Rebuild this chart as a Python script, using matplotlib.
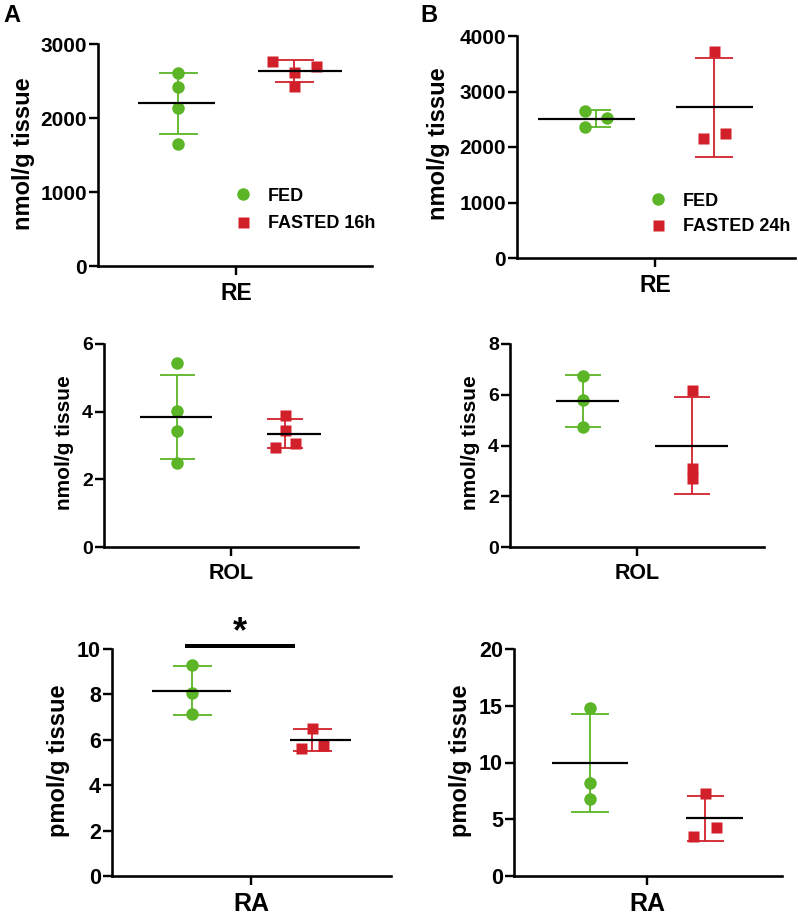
import matplotlib
matplotlib.use('Agg')
import matplotlib.pyplot as plt
import numpy as np

plt.rcParams['font.family'] = ['Liberation Sans', 'DejaVu Sans']
plt.rcParams['font.weight'] = 'bold'

W, H, DPI = 798, 915, 100

# ---------------- data ----------------
RE_A_fed = [2604, 2414, 2131, 1649]
RE_A_fasted = [2770, 2707, 2626, 2432]
RE_B_fed = [2654, 2355, 2523]
RE_B_fasted = [3735, 2156, 2246]
ROL_A_fed = [5.45, 4.03, 3.43, 2.49]
ROL_A_fasted = [3.90, 3.46, 2.96, 3.08]
ROL_B_fed = [6.74, 5.79, 4.72]
ROL_B_fasted = [6.19, 3.10, 2.71]
RA_A_fed = [9.28, 8.06, 7.13]
RA_A_fasted = [6.54, 5.66, 5.78]
RA_B_fed = [14.83, 8.22, 6.81]
RA_B_fasted = [7.34, 3.55, 4.34]

labels_A = ['FED', 'FASTED 16h']
labels_B = ['FED', 'FASTED 24h']
GREEN = '#5BB526'
RED = '#D2202A'

# ---------------- layout (pixels) ----------------
panels = [
    dict(rect=(98, 44, 372, 266), ymax=3000, step=1000, ylabel='nmol/g tissue', cat='RE',
         yl=(24, 154), fs_tick=15, fs_lab=17, fs_cat=16.5, tick_x=236,
         fed=RE_A_fed, fas=RE_A_fasted,
         fed_x=178, fed_off=[0, 0, 0, 0], fed_mean=(138, 215), fed_cap=19.5,
         fas_x=294, fas_off=[-22, 22, 0, 0], fas_mean=(258, 342), fas_cap=19.5,
         legend=(labels_A, 234, 187.6, 0.57)),
    dict(rect=(517, 36, 795, 258), ymax=4000, step=1000, ylabel='nmol/g tissue', cat='RE',
         yl=(438, 144), fs_tick=15, fs_lab=17, fs_cat=16.5, tick_x=655,
         fed=RE_B_fed, fas=RE_B_fasted,
         fed_x=596, fed_off=[-11, -11, 11], fed_mean=(538, 635), fed_cap=15,
         fas_x=714, fas_off=[0, -11, 11], fas_mean=(676, 753), fas_cap=19,
         legend=(labels_B, 649, 192.6, 0.46)),
    dict(rect=(104, 344, 358, 547), ymax=6, step=2, ylabel='nmol/g tissue', cat='ROL',
         yl=(64.5, 443), fs_tick=14, fs_lab=15, fs_cat=15.5, tick_x=231,
         fed=ROL_A_fed, fas=ROL_A_fasted,
         fed_x=177, fed_off=[0, 0, 0, 0], fed_mean=(140, 212), fed_cap=17.5,
         fas_x=285, fas_off=[0, 0, -10, 10], fas_mean=(267, 321), fas_cap=18,
         legend=None),
    dict(rect=(510, 344, 764, 547), ymax=8, step=2, ylabel='nmol/g tissue', cat='ROL',
         yl=(470.8, 443), fs_tick=14, fs_lab=15, fs_cat=15.5, tick_x=637,
         fed=ROL_B_fed, fas=ROL_B_fasted,
         fed_x=583, fed_off=[0, 0, 0], fed_mean=(556, 619), fed_cap=18,
         fas_x=691.7, fas_off=[0, 0, 0], fas_mean=(655, 728), fas_cap=18,
         legend=None),
    dict(rect=(112, 649, 391, 876), ymax=10, step=2, ylabel='pmol/g tissue', cat='RA',
         yl=(59, 761), fs_tick=15.5, fs_lab=17, fs_cat=18, tick_x=251,
         fed=RA_A_fed, fas=RA_A_fasted,
         fed_x=192, fed_off=[0, 0, 0], fed_mean=(152, 231), fed_cap=19.5,
         fas_x=312, fas_off=[0, -11, 11], fas_mean=(290, 351), fas_cap=19.5,
         legend=None),
    dict(rect=(514, 649, 782, 876), ymax=20, step=5, ylabel='pmol/g tissue', cat='RA',
         yl=(460.7, 761), fs_tick=15.5, fs_lab=17, fs_cat=18, tick_x=647,
         fed=RA_B_fed, fas=RA_B_fasted,
         fed_x=590, fed_off=[0, 0, 0], fed_mean=(552, 628), fed_cap=19,
         fas_x=705, fas_off=[0, -12, 11], fas_mean=(686, 743), fas_cap=18.5,
         legend=None),
]

PT = 72.0 / DPI  # points per pixel

fig = plt.figure(figsize=(W / DPI, H / DPI), dpi=DPI)

def fx(px):
    return px / W

def fy(py):
    return 1 - py / H

axes = []
for p in panels:
    l, t, r, b = p['rect']
    ax = fig.add_axes([fx(l), fy(b), (r - l) / W, (b - t) / H])
    ax.set_xlim(l, r)
    ax.set_ylim(0, p['ymax'])
    for s in ['top', 'right']:
        ax.spines[s].set_visible(False)
    for s in ['left', 'bottom']:
        ax.spines[s].set_linewidth(2.6 * PT)
    ax.set_yticks(np.arange(0, p['ymax'] + p['step'] / 2, p['step']))
    ax.set_yticklabels([f"{int(v)}" for v in ax.get_yticks()], fontsize=p['fs_tick'], fontweight='bold')
    ax.set_xticks([p['tick_x']])
    ax.set_xticklabels([p['cat']], fontsize=p['fs_cat'], fontweight='bold')
    ax.tick_params(axis='y', length=9 * PT, width=2.4 * PT, pad=2 * PT)
    ax.tick_params(axis='x', length=9 * PT, width=2.4 * PT, pad=7 * PT)
    ax.patch.set_visible(False)

    for vals, xc, offs, (m0, m1), cap, col, mk, ms in [
        (p['fed'], p['fed_x'], p['fed_off'], p['fed_mean'], p['fed_cap'], GREEN, 'o', 12.5),
        (p['fas'], p['fas_x'], p['fas_off'], p['fas_mean'], p['fas_cap'], RED, 's', 11),
    ]:
        v = np.array(vals, dtype=float)
        m = v.mean()
        sd = v.std(ddof=1)
        ax.errorbar([xc], [m], yerr=[sd], fmt='none', ecolor=col, elinewidth=1.8 * PT,
                    capsize=cap * PT, capthick=1.8 * PT, zorder=2)
        ax.plot(xc + np.array(offs), v, linestyle='none', marker=mk, ms=ms * PT,
                color=col, mec='none', zorder=3)
        ax.hlines(m, m0, m1, color='black', lw=2.2 * PT, zorder=4)

    fig.text(fx(p['yl'][0]), fy(p['yl'][1]), p['ylabel'], rotation=90, ha='center', va='center',
             fontsize=p['fs_lab'], fontweight='bold')

    if p['legend'] is not None:
        labs, lx, ly, lsp = p['legend']
        h1, = ax.plot([], [], linestyle='none', marker='o', ms=12.5 * PT, color=GREEN, mec='none')
        h2, = ax.plot([], [], linestyle='none', marker='s', ms=11 * PT, color=RED, mec='none')
        ax.legend([h1, h2], labs, loc='upper left', bbox_to_anchor=(fx(lx), fy(ly)),
                  bbox_transform=fig.transFigure, frameon=False, borderpad=0, borderaxespad=0,
                  handlelength=1.0, handletextpad=0.89, labelspacing=lsp,
                  prop=dict(size=13, weight='bold'))
    axes.append(ax)

# significance marker in RA (A)
axA3 = axes[4]
axA3.plot([185, 295], [10.15, 10.15], color='black', lw=4 * PT, clip_on=False,
          solid_capstyle='butt')
axA3.text(240, 10.7, '*', ha='center', va='center', fontsize=26, fontweight='bold',
          clip_on=False)

# panel letters
fig.text(fx(3), fy(4), 'A', ha='left', va='top', fontsize=17, fontweight='bold')
fig.text(fx(420), fy(4), 'B', ha='left', va='top', fontsize=17, fontweight='bold')

fig.savefig('out.png', dpi=DPI)
